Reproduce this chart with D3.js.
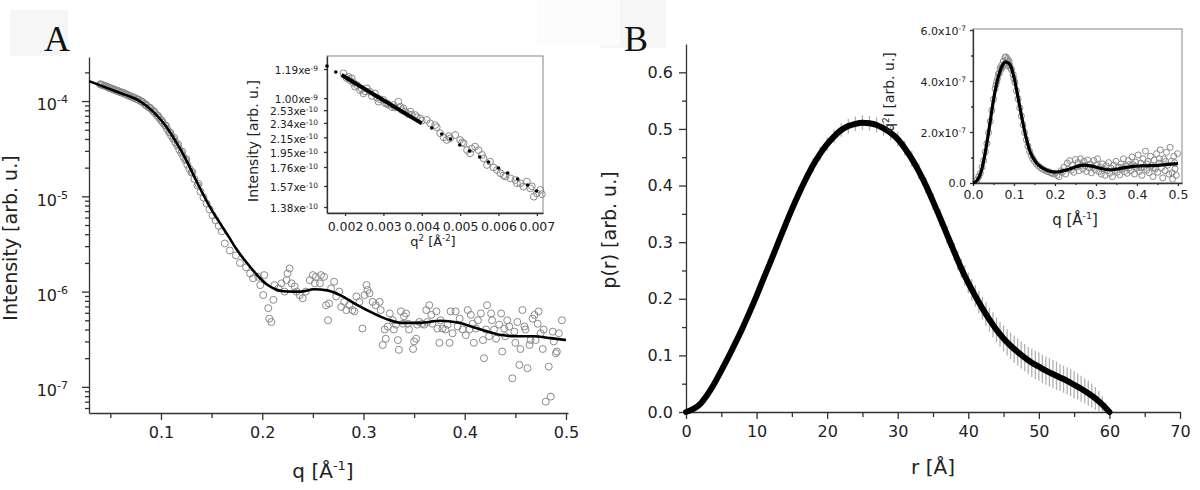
<!DOCTYPE html>
<html><head><meta charset="utf-8">
<script src="https://cdn.jsdelivr.net/npm/d3@7"></script>
<style>body{margin:0;background:#fff;} svg{display:block;font-family:"DejaVu Sans",Verdana,sans-serif;}</style>
</head><body><svg id="c" width="1200" height="490"></svg>
<script>
// ---------- Panel A: SAXS intensity (log) ----------
const aFitQ = [0.029,0.04,0.0525,0.065,0.079,0.092,0.104,0.115,0.125,0.133,0.141,0.150,0.160,0.167,0.174,0.181,0.188,0.196,0.205,0.213,0.221,0.230,0.238,0.251,0.264,0.277,0.294,0.310,0.324,0.337,0.356,0.376,0.393,0.413,0.436,0.452,0.468,0.485,0.5];
const aFitI = [1.62e-4,1.46e-4,1.30e-4,1.16e-4,1.0e-4,7.8e-5,5.6e-5,3.7e-5,2.4e-5,1.6e-5,1.08e-5,7.2e-6,4.9e-6,3.75e-6,2.85e-6,2.25e-6,1.82e-6,1.45e-6,1.18e-6,1.06e-6,1.01e-6,1.0e-6,1.0e-6,1.06e-6,1.03e-6,9.2e-7,7.2e-7,5.9e-7,5.1e-7,4.7e-7,4.7e-7,4.95e-7,4.75e-7,4.1e-7,3.5e-7,3.4e-7,3.4e-7,3.25e-7,3.1e-7];
const aDataQ = [0.040,0.042,0.044,0.046,0.048,0.050,0.052,0.054,0.056,0.058,0.060,0.062,0.064,0.066,0.068,0.070,0.072,0.074,0.076,0.078,0.080,0.082,0.084,0.086,0.088,0.090,0.092,0.094,0.096,0.098,0.100,0.102,0.104,0.106,0.108,0.110,0.112,0.114,0.116,0.118,0.120,0.122,0.124,0.126,0.128,0.130,0.133,0.136,0.139,0.142,0.145,0.148,0.151,0.154,0.157,0.160,
0.041,0.045,0.049,0.053,0.057,0.061,0.065,0.069,0.073,0.077,0.081,0.085,0.089,0.093,0.097,0.101,0.105,0.109,0.113,0.117,0.121,0.125,0.131,0.137,
0.163,0.168,0.174,0.178,0.184,0.188,0.191,0.196,0.198,0.201,0.202,0.206,0.207,0.209,0.211,0.212,0.216,0.219,0.222,0.224,0.225,0.227,0.229,0.232,0.234,0.237,0.240,0.243,0.247,0.250,0.252,0.253,0.257,0.258,0.261,0.263,0.265,0.266,0.268,0.271,0.273,0.276,0.278,0.281,0.283,0.286,0.289,0.291,0.293,0.296,0.299,0.301,0.303,0.304,0.306,0.309,0.312,0.316,0.317,0.319,0.321,0.322,0.324,0.326,0.329,0.330,0.332,0.334,0.335,0.337,0.339,0.340,0.342,0.344,0.345,0.349,0.350,0.352,0.353,0.355,0.358,0.360,0.362,0.363,0.365,0.367,0.368,0.372,0.373,0.375,0.376,0.378,0.381,0.383,0.385,0.386,0.388,0.391,0.393,0.395,0.398,0.401,0.403,0.4045,0.406,0.408,0.409,0.411,0.413,0.416,0.418,0.419,0.421,0.422,0.424,0.426,0.427,0.429,0.431,0.434,0.436,0.437,0.439,0.440,0.442,0.444,0.447,0.449,0.450,0.452,0.454,0.455,0.457,0.459,0.460,0.462,0.464,0.465,0.467,0.469,0.470,0.472,0.473,0.475,0.477,0.478,0.480,0.483,0.485,0.487,0.488,0.490,0.491,0.493,0.496];
const aDataI = [1.50e-4,1.47e-4,1.45e-4,1.42e-4,1.39e-4,1.36e-4,1.34e-4,1.31e-4,1.29e-4,1.26e-4,1.24e-4,1.22e-4,1.20e-4,1.17e-4,1.15e-4,1.12e-4,1.10e-4,1.08e-4,1.05e-4,1.03e-4,1.0e-4,9.7e-5,9.3e-5,8.9e-5,8.6e-5,8.3e-5,7.9e-5,7.5e-5,7.1e-5,6.7e-5,6.3e-5,5.9e-5,5.55e-5,5.1e-5,4.7e-5,4.35e-5,4.0e-5,3.7e-5,3.4e-5,3.1e-5,2.85e-5,2.6e-5,2.4e-5,2.15e-5,1.95e-5,1.78e-5,1.52e-5,1.3e-5,1.12e-5,9.7e-6,8.4e-6,7.3e-6,6.3e-6,5.6e-6,4.9e-6,4.3e-6,
1.49e-4,1.44e-4,1.38e-4,1.33e-4,1.28e-4,1.23e-4,1.18e-4,1.13e-4,1.08e-4,1.04e-4,9.9e-5,9.2e-5,8.5e-5,7.8e-5,7.0e-5,6.2e-5,5.5e-5,4.7e-5,4.1e-5,3.5e-5,2.95e-5,2.45e-5,1.8e-5,1.35e-5,
3.2e-6,2.7e-6,2.4e-6,2.0e-6,1.8e-6,1.55e-6,1.38e-6,1.43e-6,1.17e-6,9.2e-7,1.49e-6,6.7e-7,5.2e-7,4.8e-7,8.2e-7,1.17e-6,1.08e-6,1.22e-6,1.0e-6,1.32e-6,1.55e-6,1.75e-6,1.22e-6,1.13e-6,1.0e-6,9.2e-7,8.5e-7,1.0e-6,1.32e-6,1.49e-6,1.22e-6,1.43e-6,1.22e-6,1.49e-6,1.43e-6,7.2e-7,5.0e-7,7.5e-7,1.08e-6,1.27e-6,8.9e-7,1.0e-6,6.9e-7,7.8e-7,6.4e-7,7.2e-7,6.4e-7,6.2e-7,8.9e-7,7.8e-7,4.1e-7,9.2e-7,1.17e-6,1.04e-6,9.6e-7,7.8e-7,7.2e-7,7.8e-7,6.4e-7,2.75e-7,4.0e-7,3.2e-7,4.3e-7,5.9e-7,5.0e-7,4.0e-7,4.5e-7,3.1e-7,2.45e-7,6.2e-7,4.6e-7,5.5e-7,5.9e-7,4.6e-7,4.0e-7,2.5e-7,3.0e-7,3.2e-7,4.5e-7,4.8e-7,4.6e-7,4.5e-7,6.4e-7,4.8e-7,7.2e-7,5.7e-7,4.6e-7,6.2e-7,4.1e-7,2.9e-7,5.0e-7,4.1e-7,4.0e-7,4.5e-7,2.9e-7,6.2e-7,3.65e-7,6.2e-7,4.3e-7,5.2e-7,4.0e-7,3.5e-7,6.4e-7,4.0e-7,5.7e-7,4.6e-7,2.9e-7,4.1e-7,5.0e-7,5.9e-7,3.1e-7,2.0e-7,4.0e-7,7.2e-7,3.4e-7,5.9e-7,5.0e-7,4.0e-7,3.2e-7,4.5e-7,5.9e-7,2.35e-7,4.1e-7,3.4e-7,5.0e-7,4.3e-7,1.23e-7,3.8e-7,2.9e-7,4.8e-7,1.7e-7,2.5e-7,6.4e-7,4.3e-7,4.0e-7,1.57e-7,2.75e-7,3.1e-7,5.2e-7,5.7e-7,3.1e-7,4.6e-7,6.2e-7,3.65e-7,2.5e-7,4.0e-7,7.0e-8,1.63e-7,7.9e-8,3.8e-7,3.0e-7,2.25e-7,2.35e-7,3.65e-7,5.0e-7];
const aXTicks = [0.1,0.2,0.3,0.4,0.5];
const aXMinor = [0.05,0.15,0.25,0.35,0.45];
const aYTicks = [1e-4,1e-5,1e-6,1e-7];
const aYExp = ["-4","-5","-6","-7"];

// ---------- Inset A: Guinier plot ----------
const gFitQ2 = [0.00191,0.0040];
const gFitY = [0.879,0.571];
const gDotQ2 = [0.00153,0.00176,0.00426,0.00452,0.00475,0.00499,0.00525,0.00551,0.00574,0.0060,0.00624,0.0065,0.00676,0.00699];
const gDotY = [0.936,0.898,0.541,0.503,0.471,0.433,0.395,0.357,0.325,0.287,0.255,0.217,0.178,0.14];
const gCircQ2 = [0.00196,0.00209,0.00217,0.00226,0.00239,0.00248,0.00257,0.00265,0.00278,0.00287,0.0030,0.00309,0.00326,0.00339,0.00344,0.00352,0.0037,0.00383,0.00396,0.00413,0.00422,0.00439,0.00448,0.00457,0.00465,0.00474,0.00487,0.0050,0.00509,0.00518,0.00526,0.00539,0.00548,0.00561,0.0057,0.00578,0.00596,0.00605,0.00618,0.00631,0.00644,0.00657,0.00665,0.00674,0.00683,0.00692,0.0070,0.00709,
0.00204,0.00213,0.00222,0.00231,0.00244,0.00252,0.0027,0.00283,0.00291,0.00304,0.00313,0.00322,0.0033,0.00348,0.00357,0.00365,0.00374,0.00387,0.0040,0.00435,0.0047,0.00505,0.0053,0.00557,0.00587,0.00613,0.00648,0.00687,0.00713];
const gCircY = [0.890,0.868,0.858,0.805,0.783,0.762,0.794,0.773,0.762,0.709,0.720,0.699,0.688,0.709,0.677,0.667,0.646,0.624,0.603,0.593,0.571,0.546,0.508,0.482,0.465,0.476,0.497,0.465,0.444,0.401,0.380,0.423,0.401,0.348,0.306,0.327,0.274,0.253,0.232,0.221,0.210,0.189,0.168,0.200,0.157,0.104,0.125,0.147,
0.86,0.845,0.83,0.815,0.79,0.775,0.745,0.735,0.725,0.70,0.69,0.675,0.672,0.655,0.645,0.63,0.625,0.61,0.588,0.56,0.49,0.45,0.41,0.37,0.29,0.24,0.19,0.17,0.12];
const gXTicks = [0.002,0.003,0.004,0.005,0.006,0.007];
const gYTickPos = [0.917,0.732,0.655,0.574,0.482,0.389,0.293,0.172,0.038];
const gYTickBase = ["1.19xe","1.00xe","2.53xe","2.34xe","2.15xe","1.95xe","1.76xe","1.57xe","1.38xe"];
const gYTickExp = ["-9","-9","-10","-10","-10","-10","-10","-10","-10"];

// ---------- Panel B: p(r) ----------
const prR = [0,1,2,3,4,5,6,7,8,9,10,11,12,13,14,15,16,17,18,19,20,21,22,23,24,25,26,27,28,29,30,31,32,33,34,35,36,37,38,39,40,41,42,43,44,45,46,47,48,49,50,51,52,53,54,55,56,57,58,59,60];
const prP = [0,0.005,0.014,0.03,0.05,0.073,0.097,0.122,0.148,0.176,0.205,0.236,0.266,0.297,0.328,0.358,0.386,0.412,0.436,0.456,0.473,0.487,0.498,0.505,0.509,0.511,0.51,0.507,0.501,0.493,0.482,0.466,0.447,0.425,0.40,0.372,0.343,0.313,0.283,0.254,0.228,0.205,0.183,0.163,0.145,0.13,0.117,0.106,0.096,0.087,0.08,0.073,0.067,0.061,0.055,0.048,0.041,0.033,0.024,0.013,0];
// error bars: 1 Å spacing up to 37 Å, 0.5 Å spacing in the tail
const errR = [0,1,2,3,4,5,6,7,8,9,10,11,12,13,14,15,16,17,18,19,20,21,22,23,24,25,26,27,28,29,30,31,32,33,34,35,36,37,
38,38.5,39,39.5,40,40.5,41,41.5,42,42.5,43,43.5,44,44.5,45,45.5,46,46.5,47,47.5,48,48.5,49,49.5,50,50.5,51,51.5,52,52.5,53,53.5,54,54.5,55,55.5,56,56.5,57,57.5,58,58.5,59,59.5];
const errP = [0,0.005,0.014,0.03,0.05,0.073,0.097,0.122,0.148,0.176,0.205,0.236,0.266,0.297,0.328,0.358,0.386,0.412,0.436,0.456,0.473,0.487,0.498,0.505,0.509,0.511,0.51,0.507,0.501,0.493,0.482,0.466,0.447,0.425,0.40,0.372,0.343,0.313,
0.283,0.268,0.254,0.241,0.228,0.216,0.205,0.194,0.183,0.173,0.163,0.154,0.145,0.137,0.13,0.123,0.117,0.111,0.106,0.101,0.096,0.091,0.087,0.083,0.08,0.076,0.073,0.07,0.067,0.064,0.061,0.058,0.055,0.052,0.048,0.045,0.041,0.037,0.033,0.029,0.024,0.019,0.013,0.007];
const errE = [0,0.004,0.005,0.005,0.006,0.006,0.007,0.007,0.008,0.008,0.009,0.009,0.01,0.01,0.01,0.011,0.011,0.011,0.012,0.012,0.012,0.012,0.012,0.013,0.013,0.013,0.013,0.013,0.013,0.013,0.013,0.013,0.014,0.014,0.014,0.015,0.015,0.016,
0.016,0.017,0.017,0.018,0.018,0.019,0.019,0.02,0.02,0.021,0.021,0.022,0.022,0.022,0.023,0.023,0.023,0.024,0.024,0.024,0.024,0.024,0.025,0.025,0.025,0.025,0.025,0.025,0.025,0.025,0.024,0.024,0.024,0.024,0.024,0.023,0.023,0.022,0.022,0.021,0.02,0.018,0.015,0.01];
const bXTicks = [0,10,20,30,40,50,60,70];
const bXMinor = [5,15,25,35,45,55,65];
const bYTicks = [0,0.1,0.2,0.3,0.4,0.5,0.6];
const bYMinor = [0.05,0.15,0.25,0.35,0.45,0.55];

// ---------- Inset B: Kratky plot (values x1e-7) ----------
const kFitQ = [0,0.01,0.02,0.03,0.04,0.05,0.06,0.07,0.08,0.09,0.10,0.11,0.12,0.13,0.14,0.15,0.16,0.17,0.18,0.19,0.20,0.21,0.23,0.25,0.27,0.29,0.31,0.33,0.35,0.37,0.39,0.41,0.43,0.45,0.47,0.49,0.50];
const kFitV = [0,0.1,0.45,1.2,2.2,3.25,4.05,4.55,4.75,4.65,4.15,3.35,2.5,1.75,1.2,0.9,0.7,0.58,0.5,0.45,0.43,0.44,0.52,0.63,0.70,0.66,0.58,0.52,0.54,0.60,0.65,0.67,0.68,0.69,0.72,0.75,0.76];
const kDatQ = [0.010,0.014,0.018,0.022,0.026,0.030,0.034,0.038,0.042,0.046,0.050,0.054,0.058,0.062,0.066,0.070,0.074,0.078,0.080,0.082,0.084,0.086,0.088,0.090,0.094,0.098,0.102,0.106,0.110,0.114,0.118,0.122,0.126,0.130,0.134,0.138,0.142,0.146,0.150,0.155,0.160,0.165,0.170,0.175,0.180,0.185,0.190,0.195,0.200,0.205,0.210,0.215,
0.072,0.076,0.084,0.092,0.064,0.068,0.100,0.060,0.056,
0.218,0.222,0.226,0.230,0.233,0.236,0.240,0.243,0.246,0.250,0.253,0.256,0.259,0.262,0.265,0.268,0.271,0.274,0.277,0.280,0.283,0.286,0.289,0.292,0.295,0.298,0.301,0.304,0.307,0.310,0.313,0.316,0.319,0.322,0.325,0.328,0.331,0.334,0.337,0.340,0.343,0.346,0.349,0.352,0.355,0.358,0.361,0.364,0.367,0.370,0.373,0.376,0.379,0.382,0.385,0.388,0.391,0.394,0.397,0.400,0.403,0.406,0.409,0.412,0.415,0.418,0.421,0.424,0.427,0.430,0.433,0.436,0.439,0.442,0.445,0.448,0.451,0.454,0.457,0.460,0.463,0.466,0.469,0.472,0.475,0.478,0.481,0.484,0.487,0.490,0.493,0.496,0.499,0.492,0.486,0.470,0.455,0.440,0.425,0.410,0.395,0.380,0.365];
const kDatV = [0.12,0.25,0.38,0.62,0.88,1.22,1.55,1.98,2.42,2.85,3.28,3.70,3.98,4.28,4.50,4.62,4.78,4.92,4.95,4.80,4.88,4.72,4.78,4.62,4.45,4.25,3.95,3.62,3.30,2.95,2.62,2.28,1.98,1.70,1.45,1.25,1.08,0.95,0.85,0.74,0.66,0.60,0.54,0.50,0.46,0.44,0.40,0.36,0.38,0.30,0.25,0.48,
4.55,4.65,4.6,4.5,4.3,4.45,4.1,4.1,3.85,
0.42,0.62,0.35,0.78,0.55,0.88,0.50,0.70,0.42,0.92,0.62,0.80,0.48,0.95,0.70,0.55,0.85,0.68,0.45,0.90,0.60,0.75,0.40,0.62,0.88,0.52,0.70,0.95,0.45,0.62,0.35,0.75,0.55,0.30,0.68,0.48,0.80,0.38,0.58,0.25,0.70,0.50,0.85,0.42,0.62,0.32,0.75,0.55,0.95,0.45,0.68,0.38,0.88,0.60,0.48,1.02,0.72,0.35,0.82,0.58,1.10,0.45,0.78,0.30,0.95,0.62,1.25,0.50,0.85,0.40,1.05,0.68,0.25,0.90,0.55,1.15,0.42,0.78,1.30,0.60,0.20,0.95,0.48,1.20,0.70,0.35,1.40,0.85,0.15,1.05,0.55,0.30,1.15,0.80,0.40,0.85,0.95,0.60,0.75,0.60,0.65,0.72,0.62];
const kXTicks = [0,0.1,0.2,0.3,0.4,0.5];
const kXMinor = [0.05,0.15,0.25,0.35,0.45];
const kYTicks = [0,2,4,6];
const kYMinor = [1,3,5];

// ================= drawing =================
const svg = d3.select("#c");
const AX = "#333";

function styleAxis(g, fs) {
  g.selectAll("path,line").attr("stroke", AX).attr("stroke-width", 1.3);
  g.selectAll("text").attr("fill", "#222").attr("font-size", fs).attr("font-family", '"DejaVu Sans",Verdana,sans-serif');
}
function richText(sel, parts, supSize, rise) {
  sel.text(null);
  parts.forEach(p => {
    const t = sel.append("tspan").text(p[0]);
    if (p[1]) { t.attr("font-size", supSize).attr("dy", -rise); }
    else if (p[2]) { t.attr("dy", rise); }
  });
}
function supParts(list) {
  const out = []; let prevSup = false;
  list.forEach(([t, s]) => { out.push([t, s, !s && prevSup]); prevSup = s; });
  return out;
}

// label background boxes and panel letters
svg.append("rect").attr("x",10).attr("y",10).attr("width",58).attr("height",46).attr("fill","#f6f6f6");
svg.append("rect").attr("x",600).attr("y",0).attr("width",66).attr("height",48).attr("fill","#f6f6f6");
svg.append("rect").attr("x",537).attr("y",0).attr("width",83).attr("height",45).attr("fill","#fcfcfc");
svg.append("text").attr("x",44).attr("y",51).attr("font-family",'"Liberation Serif","Times New Roman",serif').attr("font-size",36).attr("fill","#111").text("A");
svg.append("text").attr("x",624).attr("y",51).attr("font-family",'"Liberation Serif","Times New Roman",serif').attr("font-size",36).attr("fill","#111").text("B");

// ---- Panel A ----
const xA = d3.scaleLinear().domain([0.0289, 0.502]).range([89, 568]);
const yA = d3.scaleLog().domain([5.32e-8, 2.9e-4]).range([413, 57]);
const aMinorY = [];
for (let e = -8; e <= -4; e++) for (let m = 2; m <= 9; m++) { const v = m * Math.pow(10, e); if (v > 5.32e-8 && v < 2.9e-4) aMinorY.push(v); }

const gAx = svg.append("g").attr("transform","translate(0,413)").call(d3.axisBottom(xA).tickValues(aXTicks).tickSize(7).tickSizeOuter(0).tickPadding(7).tickFormat(d3.format(".1f")));
styleAxis(gAx, 16);
const gAxm = svg.append("g").attr("transform","translate(0,413)").call(d3.axisBottom(xA).tickValues(aXMinor).tickSize(5).tickFormat(""));
gAxm.select(".domain").remove(); styleAxis(gAxm, 16);
const gAy = svg.append("g").attr("transform","translate(89,0)").call(d3.axisLeft(yA).tickValues(aYTicks).tickSize(7).tickSizeOuter(0).tickPadding(14));
styleAxis(gAy, 16);
gAy.selectAll(".tick text").each(function(d, i) { richText(d3.select(this), [["10",false],[aYExp[i],true]], 11, 7); d3.select(this).attr("dy","0.55em"); });
const gAym = svg.append("g").attr("transform","translate(89,0)").call(d3.axisLeft(yA).tickValues(aMinorY).tickSize(4).tickFormat(""));
gAym.select(".domain").remove(); styleAxis(gAym, 16);

svg.append("g").selectAll("circle").data(aDataQ.map((q,i)=>[q,aDataI[i]])).join("circle")
  .attr("cx", d => xA(d[0])).attr("cy", d => yA(d[1])).attr("r", 3.5)
  .attr("fill","none").attr("stroke","#8a8a8a").attr("stroke-width",1);
svg.append("path").datum(aFitQ.map((q,i)=>[q,aFitI[i]]))
  .attr("d", d3.line().x(d=>xA(d[0])).y(d=>yA(d[1])).curve(d3.curveMonotoneX))
  .attr("fill","none").attr("stroke","#000").attr("stroke-width",2.6);

const tAx = svg.append("text").attr("x",323).attr("y",478).attr("text-anchor","middle").attr("font-size",20).attr("fill","#222");
richText(tAx, supParts([["q [Å",false],["-1",true],["]",false]]), 13, 8);
svg.append("text").attr("transform","translate(17,238) rotate(-90)").attr("text-anchor","middle").attr("font-size",19).attr("fill","#222").text("Intensity [arb. u.]");

// ---- Inset A ----
const xG = d3.scaleLinear().domain([0.00153, 0.00716]).range([327, 543]);
const yG = d3.scaleLinear().domain([0, 1]).range([213, 56]);
svg.append("rect").attr("x",327).attr("y",56).attr("width",216).attr("height",157).attr("fill","#fff").attr("stroke","#999").attr("stroke-width",1.2);
const gGx = svg.append("g").attr("transform","translate(0,213)").call(d3.axisBottom(xG).tickValues(gXTicks).tickSize(3).tickSizeOuter(0).tickPadding(6).tickFormat(d3.format(".3f")));
styleAxis(gGx, 12.5);
const gGy = svg.append("g").attr("transform","translate(327,0)").call(d3.axisLeft(yG).tickValues(gYTickPos).tickSize(3).tickSizeOuter(0).tickPadding(6));
styleAxis(gGy, 10.5);
gGy.selectAll(".tick text").each(function(d, i) { richText(d3.select(this), [[gYTickBase[i],false],[gYTickExp[i],true]], 7.5, 3.5); d3.select(this).attr("dy","0.45em"); });
svg.append("g").selectAll("circle").data(gCircQ2.map((q,i)=>[q,gCircY[i]])).join("circle")
  .attr("cx", d => xG(d[0])).attr("cy", d => yG(d[1])).attr("r", 3.4)
  .attr("fill","none").attr("stroke","#8a8a8a").attr("stroke-width",1);
svg.append("path").datum(gFitQ2.map((q,i)=>[q,gFitY[i]]))
  .attr("d", d3.line().x(d=>xG(d[0])).y(d=>yG(d[1])))
  .attr("fill","none").attr("stroke","#000").attr("stroke-width",4);
svg.append("g").selectAll("circle").data(gDotQ2.map((q,i)=>[q,gDotY[i]])).join("circle")
  .attr("cx", d => xG(d[0])).attr("cy", d => yG(d[1])).attr("r", 1.8).attr("fill","#000");
const tGx = svg.append("text").attr("x",433).attr("y",246).attr("text-anchor","middle").attr("font-size",13).attr("fill","#222");
richText(tGx, supParts([["q",false],["2",true],[" [Å",false],["-2",true],["]",false]]), 8.5, 5);
svg.append("text").attr("transform","translate(258,141) rotate(-90)").attr("text-anchor","middle").attr("font-size",14).attr("fill","#222").text("Intensity [arb. u.]");

// ---- Panel B ----
const xB = d3.scaleLinear().domain([0, 70]).range([686, 1180]);
const yB = d3.scaleLinear().domain([0, 0.65]).range([412, 44]);
const gBx = svg.append("g").attr("transform","translate(0,412)").call(d3.axisBottom(xB).tickValues(bXTicks).tickSize(7).tickSizeOuter(0).tickPadding(7).tickFormat(d3.format("d")));
styleAxis(gBx, 16);
const gBxm = svg.append("g").attr("transform","translate(0,412)").call(d3.axisBottom(xB).tickValues(bXMinor).tickSize(5).tickFormat(""));
gBxm.select(".domain").remove(); styleAxis(gBxm, 16);
const gBy = svg.append("g").attr("transform","translate(686,0)").call(d3.axisLeft(yB).tickValues(bYTicks).tickSize(7).tickSizeOuter(0).tickPadding(6).tickFormat(d3.format(".1f")));
styleAxis(gBy, 16);
const gBym = svg.append("g").attr("transform","translate(686,0)").call(d3.axisLeft(yB).tickValues(bYMinor).tickSize(4).tickFormat(""));
gBym.select(".domain").remove(); styleAxis(gBym, 16);

svg.append("g").selectAll("line").data(errR.map((r,i)=>[r,errP[i],errE[i]])).join("line")
  .attr("x1", d => xB(d[0])).attr("x2", d => xB(d[0]))
  .attr("y1", d => yB(Math.max(0, d[1]-d[2]))).attr("y2", d => yB(d[1]+d[2]))
  .attr("stroke","#b0b0b0").attr("stroke-width",1.3);
svg.append("path").datum(prR.map((r,i)=>[r,prP[i]]))
  .attr("d", d3.line().x(d=>xB(d[0])).y(d=>yB(d[1])).curve(d3.curveMonotoneX))
  .attr("fill","none").attr("stroke","#000").attr("stroke-width",6).attr("stroke-linecap","round");
svg.append("text").attr("x",933).attr("y",474).attr("text-anchor","middle").attr("font-size",20).attr("fill","#222").text("r [Å]");
svg.append("text").attr("transform","translate(616,230) rotate(-90)").attr("text-anchor","middle").attr("font-size",19).attr("fill","#222").text("p(r) [arb. u.]");

// ---- Inset B ----
const xK = d3.scaleLinear().domain([0, 0.51]).range([973, 1182]);
const yK = d3.scaleLinear().domain([0, 6.04]).range([183, 29]);
svg.append("rect").attr("x",973).attr("y",29).attr("width",209).attr("height",154).attr("fill","#fff").attr("stroke","#999").attr("stroke-width",1.2);
const gKx = svg.append("g").attr("transform","translate(0,183)").call(d3.axisBottom(xK).tickValues(kXTicks).tickSize(3).tickSizeOuter(0).tickPadding(4).tickFormat(d3.format(".1f")));
styleAxis(gKx, 12.5);
const gKxm = svg.append("g").attr("transform","translate(0,183)").call(d3.axisBottom(xK).tickValues(kXMinor).tickSize(2).tickFormat(""));
gKxm.select(".domain").remove(); styleAxis(gKxm, 12);
const gKy = svg.append("g").attr("transform","translate(973,0)").call(d3.axisLeft(yK).tickValues(kYTicks).tickSize(3).tickSizeOuter(0).tickPadding(4));
styleAxis(gKy, 11);
gKy.selectAll(".tick text").each(function(d) {
  const s = d3.select(this);
  if (d === 0) s.text("0.0");
  else { richText(s, [[d.toFixed(1) + "x10",false],["-7",true]], 7.5, 4); s.attr("dy","0.45em"); }
});
const gKym = svg.append("g").attr("transform","translate(973,0)").call(d3.axisLeft(yK).tickValues(kYMinor).tickSize(2).tickFormat(""));
gKym.select(".domain").remove(); styleAxis(gKym, 12);
svg.append("g").selectAll("circle").data(kDatQ.map((q,i)=>[q,kDatV[i]])).join("circle")
  .attr("cx", d => xK(d[0])).attr("cy", d => yK(d[1])).attr("r", 3)
  .attr("fill","none").attr("stroke","#8a8a8a").attr("stroke-width",1);
svg.append("path").datum(kFitQ.map((q,i)=>[q,kFitV[i]]))
  .attr("d", d3.line().x(d=>xK(d[0])).y(d=>yK(d[1])).curve(d3.curveMonotoneX))
  .attr("fill","none").attr("stroke","#000").attr("stroke-width",3.2);
const tKx = svg.append("text").attr("x",1075).attr("y",225).attr("text-anchor","middle").attr("font-size",15).attr("fill","#222");
richText(tKx, supParts([["q [Å",false],["-1",true],["]",false]]), 9.5, 6);
const tKy = svg.append("text").attr("transform","translate(894,92) rotate(-90)").attr("text-anchor","middle").attr("font-size",14).attr("fill","#222");
richText(tKy, supParts([["q",false],["2",true],["I [arb. u.]",false]]), 9, 5);
</script></body></html>
